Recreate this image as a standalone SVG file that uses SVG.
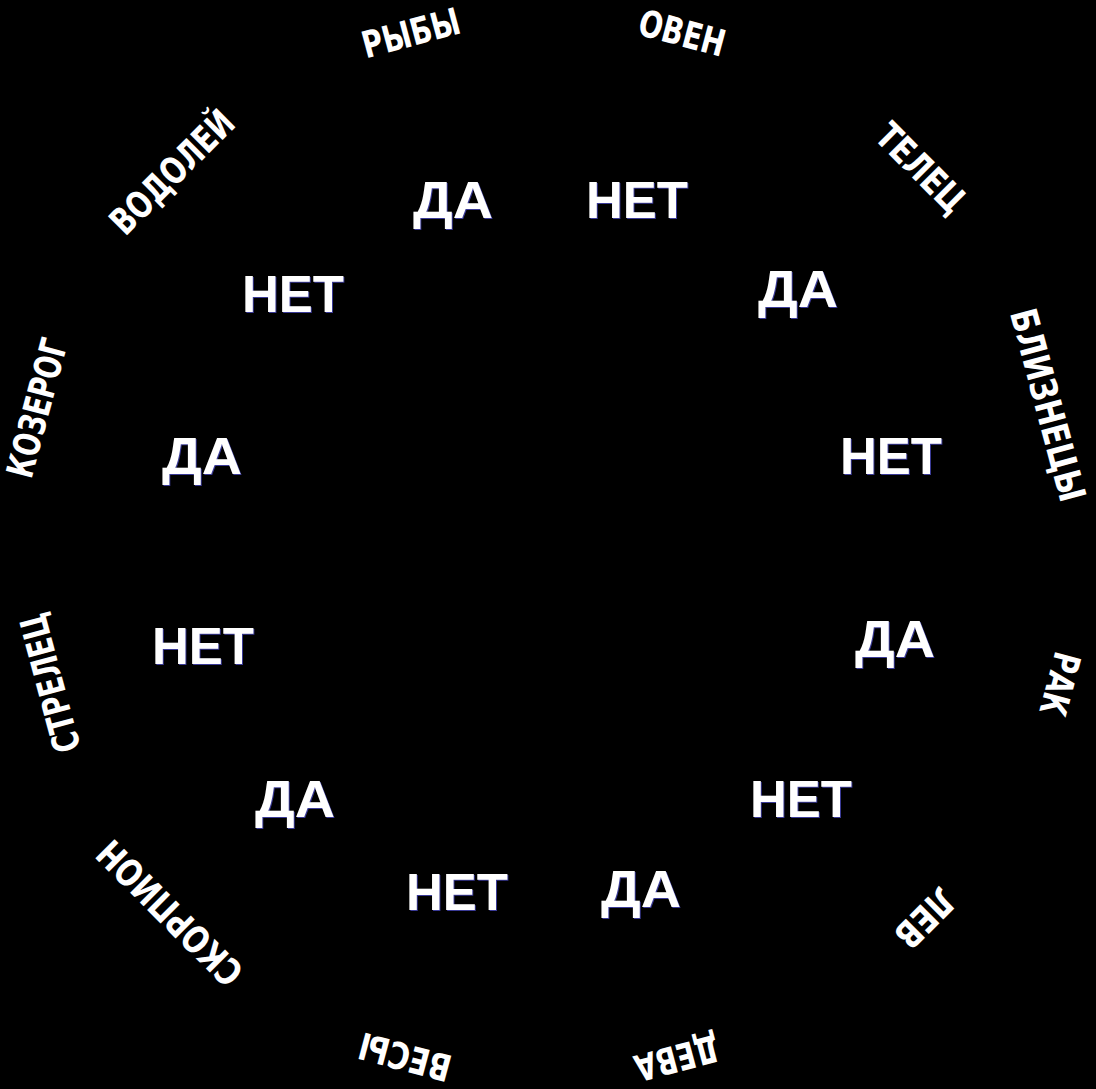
<svg xmlns="http://www.w3.org/2000/svg" width="1096" height="1089" viewBox="0 0 1096 1089">
<style>
.sign{font-family:"DejaVu Sans Condensed","DejaVu Sans",sans-serif;font-weight:bold;font-size:37px;fill:#fff;text-anchor:middle}
.ans{font-family:"Liberation Sans",Arial,sans-serif;font-weight:bold;font-size:51px;fill:#fff;text-anchor:middle}
.sh{fill:#3a3a96}
</style>
<rect width="1096" height="1089" fill="#000"/>
<g id="signs">
<g id="ryby" transform="translate(411,33) rotate(-15)"><text class="sign" x="0" y="13" textLength="100" lengthAdjust="spacingAndGlyphs">РЫБЫ</text></g>
<g id="oven" transform="translate(682,33) rotate(15)"><text class="sign" x="0" y="13" textLength="88" lengthAdjust="spacingAndGlyphs">ОВЕН</text></g>
<g id="telets" transform="translate(921,168) rotate(45)"><text class="sign" x="0" y="13" textLength="110" lengthAdjust="spacingAndGlyphs">ТЕЛЕЦ</text></g>
<g id="bliznetsy" transform="translate(1048,405) rotate(75)"><text class="sign" x="0" y="13" textLength="198" lengthAdjust="spacingAndGlyphs">БЛИЗНЕЦЫ</text></g>
<g id="rak" transform="translate(1060,684) rotate(105)"><text class="sign" x="0" y="13" textLength="64" lengthAdjust="spacingAndGlyphs">РАК</text></g>
<g id="lev" transform="translate(925,918) rotate(135)"><text class="sign" x="0" y="13" textLength="68" lengthAdjust="spacingAndGlyphs">ЛЕВ</text></g>
<g id="deva" transform="translate(677,1058) rotate(165)"><text class="sign" x="0" y="13" textLength="86" lengthAdjust="spacingAndGlyphs">ДЕВА</text></g>
<g id="vesy" transform="translate(405,1057) rotate(195)"><text class="sign" x="0" y="13" textLength="94" lengthAdjust="spacingAndGlyphs">ВЕСЫ</text></g>
<g id="skorpion" transform="translate(170,913) rotate(225)"><text class="sign" x="0" y="13" textLength="188" lengthAdjust="spacingAndGlyphs">СКОРПИОН</text></g>
<g id="strelets" transform="translate(50,683) rotate(255)"><text class="sign" x="0" y="13" textLength="142" lengthAdjust="spacingAndGlyphs">СТРЕЛЕЦ</text></g>
<g id="kozerog" transform="translate(37,408) rotate(285)"><text class="sign" x="0" y="13" textLength="142" lengthAdjust="spacingAndGlyphs">КОЗЕРОГ</text></g>
<g id="vodoley" transform="translate(172,172) rotate(-45)"><text class="sign" x="0" y="13" textLength="158" lengthAdjust="spacingAndGlyphs">ВОДОЛЕЙ</text></g>
</g>
<g id="answers">
<g id="a1"><text class="ans sh" x="454" y="219" textLength="80" lengthAdjust="spacingAndGlyphs">ДА</text><text class="ans" x="453" y="218" textLength="80" lengthAdjust="spacingAndGlyphs">ДА</text></g>
<g id="a2"><text class="ans sh" x="638" y="219" textLength="102" lengthAdjust="spacingAndGlyphs">НЕТ</text><text class="ans" x="637" y="218" textLength="102" lengthAdjust="spacingAndGlyphs">НЕТ</text></g>
<g id="a3"><text class="ans sh" x="294" y="313" textLength="102" lengthAdjust="spacingAndGlyphs">НЕТ</text><text class="ans" x="293" y="312" textLength="102" lengthAdjust="spacingAndGlyphs">НЕТ</text></g>
<g id="a4"><text class="ans sh" x="799" y="308" textLength="80" lengthAdjust="spacingAndGlyphs">ДА</text><text class="ans" x="798" y="307" textLength="80" lengthAdjust="spacingAndGlyphs">ДА</text></g>
<g id="a5"><text class="ans sh" x="203" y="475" textLength="80" lengthAdjust="spacingAndGlyphs">ДА</text><text class="ans" x="202" y="474" textLength="80" lengthAdjust="spacingAndGlyphs">ДА</text></g>
<g id="a6"><text class="ans sh" x="892" y="475" textLength="102" lengthAdjust="spacingAndGlyphs">НЕТ</text><text class="ans" x="891" y="474" textLength="102" lengthAdjust="spacingAndGlyphs">НЕТ</text></g>
<g id="a7"><text class="ans sh" x="204" y="665" textLength="102" lengthAdjust="spacingAndGlyphs">НЕТ</text><text class="ans" x="203" y="664" textLength="102" lengthAdjust="spacingAndGlyphs">НЕТ</text></g>
<g id="a8"><text class="ans sh" x="896" y="658" textLength="80" lengthAdjust="spacingAndGlyphs">ДА</text><text class="ans" x="895" y="657" textLength="80" lengthAdjust="spacingAndGlyphs">ДА</text></g>
<g id="a9"><text class="ans sh" x="296" y="818" textLength="80" lengthAdjust="spacingAndGlyphs">ДА</text><text class="ans" x="295" y="817" textLength="80" lengthAdjust="spacingAndGlyphs">ДА</text></g>
<g id="a10"><text class="ans sh" x="802" y="818" textLength="102" lengthAdjust="spacingAndGlyphs">НЕТ</text><text class="ans" x="801" y="817" textLength="102" lengthAdjust="spacingAndGlyphs">НЕТ</text></g>
<g id="a11"><text class="ans sh" x="458" y="911" textLength="102" lengthAdjust="spacingAndGlyphs">НЕТ</text><text class="ans" x="457" y="910" textLength="102" lengthAdjust="spacingAndGlyphs">НЕТ</text></g>
<g id="a12"><text class="ans sh" x="642" y="908" textLength="80" lengthAdjust="spacingAndGlyphs">ДА</text><text class="ans" x="641" y="907" textLength="80" lengthAdjust="spacingAndGlyphs">ДА</text></g>
</g>
</svg>
